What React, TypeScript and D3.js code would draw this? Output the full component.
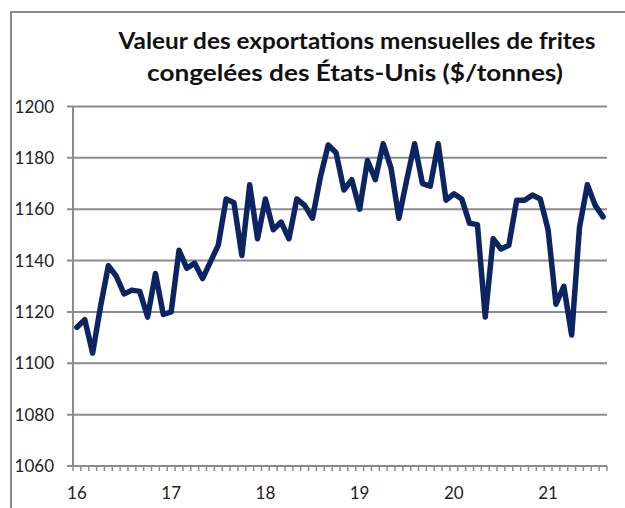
import { line, range, scaleBand, scaleLinear } from 'd3'

// Valeur mensuelle, janv. 2016 à août 2021 ($/tonne)
const values = [
	1114, 1117, 1104, 1122, 1138, 1134, 1127, 1128.5, 1128, 1118, 1135, 1119,
	1120, 1144, 1137, 1139, 1133, 1139.5, 1146, 1164, 1162.5, 1142, 1169.5, 1148.5,
	1164, 1152, 1155, 1148.5, 1164, 1161.5, 1156.5, 1172.5, 1185, 1182, 1167.5, 1171.5,
	1160, 1179, 1171.5, 1185.5, 1176, 1156.5, 1171.5, 1185.5, 1170, 1169, 1185.5, 1163.5,
	1166, 1164, 1154.5, 1154, 1118, 1148.5, 1144.5, 1146, 1163.5, 1163.5, 1165.5, 1164,
	1152, 1123, 1130, 1111, 1153, 1169.5, 1161.5, 1157,
]
const yearLabels = ['16', '17', '18', '19', '20', '21']
const yTicks = [1060, 1080, 1100, 1120, 1140, 1160, 1180, 1200]
const titleLines = [
	'Valeur des exportations mensuelles de frites',
	'congelées des États-Unis ($/tonnes)',
]

const W = 625
const H = 508
const font = 'Lato, "Open Sans", sans-serif'

export default function App() {
	const x = scaleBand<number>()
		.domain(range(values.length))
		.range([73, 607])
	const y = scaleLinear().domain([1060, 1200]).range([466, 106.5])

	const path = line<number>()
		.x((_, i) => x(i)! + x.bandwidth() / 2)
		.y((d) => y(d))(values)

	return (
		<svg
			width={W}
			height={H}
			style={{ position: 'absolute', left: 0, top: 0, background: '#fff' }}
		>
			{/* cadre */}
			<rect x={11} y={12} width={700} height={600} fill='none' stroke='#8a8a8a' strokeWidth={2} />

			{titleLines.map((t, i) => (
				<text
					key={i}
					x={i === 0 ? 357 : 355}
					y={i === 0 ? 49 : 80.5}
					textAnchor='middle'
					fontFamily={font}
					fontWeight='bold'
					fontSize={23}
					fill='#111'
					textLength={i === 0 ? 477 : 416}
					lengthAdjust='spacingAndGlyphs'
				>
					{t}
				</text>
			))}

			{/* grille + graduations y */}
			{yTicks.map((t) => (
				<g key={t}>
					<line x1={67} x2={607} y1={y(t)} y2={y(t)} stroke='#8c8c8c' strokeWidth={2} />
					<text
						x={54}
						y={y(t)}
						dy='0.36em'
						textAnchor='end'
						fontFamily={font}
						fontSize={17}
						fill='#222'
					>
						{t}
					</text>
				</g>
			))}
			<line x1={73} x2={73} y1={y(1200)} y2={y(1060)} stroke='#8c8c8c' strokeWidth={2} />

			{/* graduations mensuelles */}
			{range(values.length + 1).map((i) => {
				const xx = i < values.length ? x(i)! : x.range()[1]
				return <line key={i} x1={xx} x2={xx} y1={y(1060)} y2={y(1060) + 5} stroke='#8c8c8c' strokeWidth={1.5} />
			})}

			{yearLabels.map((lab, i) => (
				<text
					key={lab}
					x={x(i * 12)! + x.bandwidth() / 2}
					y={499}
					textAnchor='middle'
					fontFamily={font}
					fontSize={17}
					fill='#222'
				>
					{lab}
				</text>
			))}

			<path
				d={path ?? ''}
				fill='none'
				stroke='#0c2462'
				strokeWidth={5.5}
				strokeLinejoin='round'
				strokeLinecap='round'
			/>
		</svg>
	)
}
